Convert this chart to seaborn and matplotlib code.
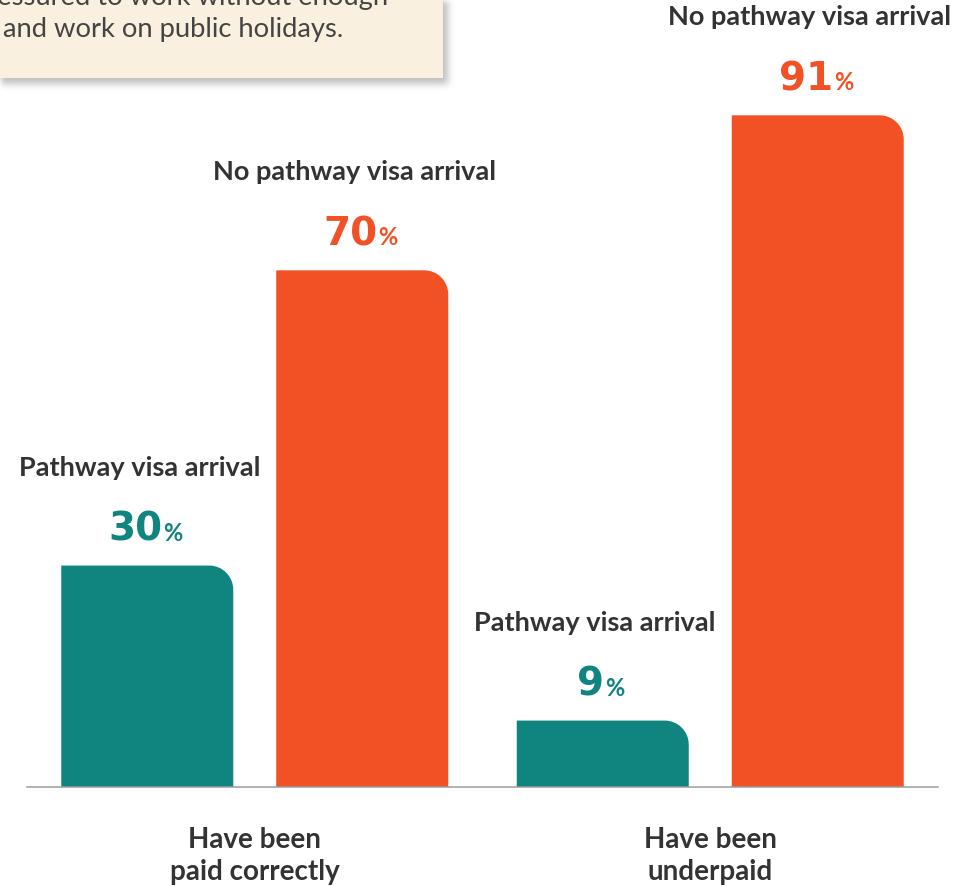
import numpy as np
import pandas as pd
import matplotlib
matplotlib.use("Agg")
import matplotlib.pyplot as plt
from matplotlib.path import Path
from matplotlib.patches import PathPatch, Rectangle
from matplotlib.transforms import offset_copy
import seaborn as sns

# ---- data -------------------------------------------------------------
outcomes = ["Have been\npaid correctly", "Have been\nunderpaid"]
arrival_types = ["Pathway visa arrival", "No pathway visa arrival"]
pathway_pct = [30, 9]
no_pathway_pct = [70, 91]
callout_lines = ["pressured to work without enough", "and work on public holidays."]

TEAL = "#10847E"
ORANGE = "#F15125"
INK = "#333333"

df = pd.DataFrame({
    "outcome": outcomes * 2,
    "arrival": [arrival_types[0]] * 2 + [arrival_types[1]] * 2,
    "pct": pathway_pct + no_pathway_pct,
})

W, H, DPI = 954, 886, 100
sns.set_theme(style="white")
plt.rcParams["font.family"] = ["Lato", "DejaVu Sans"]

fig = plt.figure(figsize=(W / DPI, H / DPI), dpi=DPI)

# axes placed in pixel terms: baseline at y=787, x from 27 to 938
ax_left, ax_right, ax_base, ax_top = 27, 938, 787, 12
ax = fig.add_axes([ax_left / W, (H - ax_base) / H,
                   (ax_right - ax_left) / W, (ax_base - ax_top) / H])

sns.barplot(data=df, x="outcome", y="pct", hue="arrival",
            order=outcomes, hue_order=arrival_types,
            palette=[TEAL, ORANGE], width=0.944, gap=0.2,
            saturation=1, legend=False, ax=ax)

ax.set_xlim(-0.5, 1.5)
ax.set_ylim(0, 105)
for side in ["top", "left", "right"]:
    ax.spines[side].set_visible(False)
ax.spines["bottom"].set_color("#9c9c9c")
ax.spines["bottom"].set_linewidth(1.1)
ax.set_yticks([])
ax.set_xlabel("")
ax.set_ylabel("")
ax.tick_params(axis="x", length=0, pad=29)
for lbl in ax.get_xticklabels():
    lbl.set_fontsize(20)
    lbl.set_fontweight("bold")
    lbl.set_color(INK)
    lbl.set_linespacing(1.25)
    lbl.set_ha("center")

# ---- rounded top-right corner on each bar ------------------------------
px_x = (ax_right - ax_left) / 2.0          # pixels per x unit
px_y = (ax_base - ax_top) / 105.0          # pixels per percent
radius_px = 24
rx, ry = radius_px / px_x, radius_px / px_y
k = 0.5523

bars = [p for p in ax.patches if p.get_height() > 0]
for bar in bars:
    x0, y0 = bar.get_x(), bar.get_y()
    x1, y1 = x0 + bar.get_width(), y0 + bar.get_height()
    verts = [
        (x0, y0), (x0, y1), (x1 - rx, y1),
        (x1 - rx + k * rx, y1), (x1, y1 - ry + k * ry), (x1, y1 - ry),
        (x1, y0), (x0, y0),
    ]
    codes = [Path.MOVETO, Path.LINETO, Path.LINETO,
             Path.CURVE4, Path.CURVE4, Path.CURVE4,
             Path.LINETO, Path.CLOSEPOLY]
    ax.add_patch(PathPatch(Path(verts, codes), facecolor=bar.get_facecolor(),
                           edgecolor="none", zorder=bar.get_zorder()))
    bar.set_visible(False)

# ---- labels above bars ---------------------------------------------------
fig.canvas.draw()
renderer = fig.canvas.get_renderer()

def text_width(s, **kw):
    t = fig.text(0, 0, s, **kw)
    w = t.get_window_extent(renderer).width
    t.remove()
    return w

num_kw = dict(fontsize=28, fontweight="bold", family=["DejaVu Sans"])
pct_kw = dict(fontsize=17, fontweight="bold", family=["Lato", "DejaVu Sans"])
cat_kw = dict(fontsize=19.5, fontweight="bold", color=INK)

teal_rgb = matplotlib.colors.to_rgb(TEAL)
for bar in bars:
    cx = bar.get_x() + bar.get_width() / 2
    top = bar.get_height()
    colour = bar.get_facecolor()
    name = arrival_types[0] if np.allclose(colour[:3], teal_rgb) else arrival_types[1]
    ax.text(cx, top, name, ha="center", va="baseline",
            transform=offset_copy(ax.transData, fig, x=-8, y=90, units="dots"),
            **cat_kw)
    num = f"{top:.0f}"
    wn = text_width(num, **num_kw)
    wp = text_width("%", **pct_kw)
    gap = 1
    start = -(wn + gap + wp) / 2 - 2
    ax.text(cx, top, num, ha="left", va="baseline", color=colour,
            transform=offset_copy(ax.transData, fig, x=start, y=25, units="dots"),
            **num_kw)
    ax.text(cx, top, "%", ha="left", va="baseline", color=colour,
            transform=offset_copy(ax.transData, fig, x=start + wn + gap, y=25, units="dots"),
            **pct_kw)

# ---- callout box in the top-left corner ---------------------------------
box_w, box_h = 443, 78
shadow = np.zeros((H, W))
shadow[0:box_h + 6, 0:box_w + 5] = 1.0
kern = np.ones(7) / 7
for _ in range(3):
    shadow = np.apply_along_axis(lambda r: np.convolve(r, kern, mode="same"), 1, shadow)
    shadow = np.apply_along_axis(lambda c: np.convolve(c, kern, mode="same"), 0, shadow)
rgba = np.zeros((H, W, 4))
rgba[..., :3] = 0.45
rgba[..., 3] = shadow * 0.45
fig.figimage(rgba, xo=0, yo=0, origin="upper", zorder=0)

fig.add_artist(Rectangle((0, 1 - box_h / H), box_w / W, box_h / H + 0.01,
                         transform=fig.transFigure, facecolor="#FAF0E0",
                         edgecolor="none", zorder=1))
callout_kw = dict(fontsize=19.7, color="#444444", zorder=2)
lead = text_width("pr", **callout_kw)
fig.text((-lead - 3) / W, 1 - 5 / H, callout_lines[0], ha="left", va="baseline",
         **callout_kw)
fig.text(3 / W, 1 - 37 / H, callout_lines[1], ha="left", va="baseline",
         **callout_kw)

fig.savefig("out.png", dpi=DPI, facecolor="white")
